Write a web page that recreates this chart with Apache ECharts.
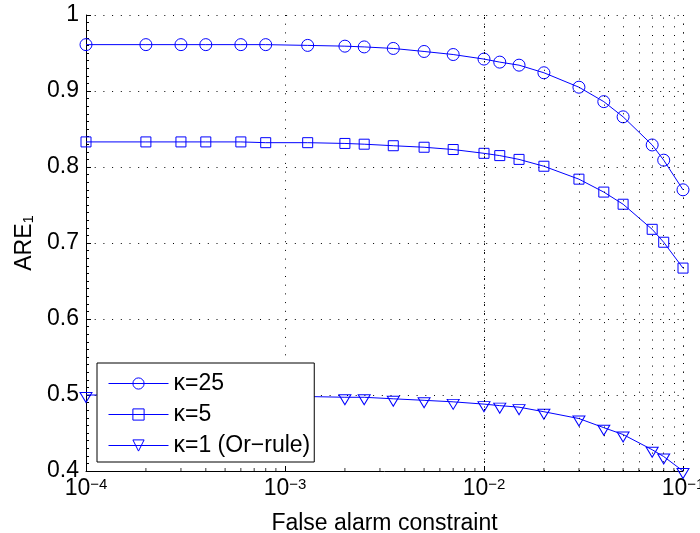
<!DOCTYPE html>
<html><head><meta charset="utf-8">
<script src="https://cdn.jsdelivr.net/npm/echarts@6/dist/echarts.min.js"></script>
<style>html,body{margin:0;padding:0;background:#fff}#c{width:700px;height:533px}</style>
</head><body><div id="c"></div>
<script>
// ---- data ----
const falseAlarm = [1e-4, 2e-4, 3e-4, 4e-4, 6e-4, 8e-4, 1.3e-3, 2e-3, 2.5e-3, 3.5e-3, 5e-3, 7e-3,
                    1e-2, 1.2e-2, 1.5e-2, 2e-2, 3e-2, 4e-2, 5e-2, 7e-2, 8e-2, 1e-1];
const areK25 = [0.961, 0.961, 0.961, 0.961, 0.961, 0.961, 0.960, 0.959, 0.958, 0.956, 0.952, 0.948,
                0.942, 0.938, 0.934, 0.924, 0.905, 0.886, 0.866, 0.829, 0.809, 0.770];
const areK5  = [0.833, 0.833, 0.833, 0.833, 0.833, 0.832, 0.832, 0.831, 0.830, 0.828, 0.826, 0.823,
                0.818, 0.815, 0.810, 0.801, 0.784, 0.767, 0.751, 0.718, 0.701, 0.667];
const areK1  = [0.500, 0.500, 0.500, 0.500, 0.500, 0.499, 0.498, 0.497, 0.497, 0.495, 0.493, 0.491,
                0.488, 0.486, 0.484, 0.478, 0.469, 0.457, 0.448, 0.428, 0.419, 0.400];
const seriesNames = ['κ=25', 'κ=5', 'κ=1 (Or−rule)'];
const xMinorTicks = [2e-4, 3e-4, 4e-4, 5e-4, 6e-4, 7e-4, 8e-4, 9e-4,
                     2e-3, 3e-3, 4e-3, 5e-3, 6e-3, 7e-3, 8e-3, 9e-3,
                     2e-2, 3e-2, 4e-2, 5e-2, 6e-2, 7e-2, 8e-2, 9e-2];
const xAxisTitle = 'False alarm constraint';
const yAxisTitle = ['ARE', '1'];

// ---- chart ----
const FONT = '"Liberation Sans", Arial, Helvetica, sans-serif';
const FS = 23;
const BLUE = '#0000ff';
const DOT = [1, 7.7];
const chart = echarts.init(document.getElementById('c'), null, {renderer: 'canvas'});
function pts(ys) { return falseAlarm.map((x, i) => [x, ys[i]]); }
const markerStyle = {color: 'rgba(0,0,0,0)', borderColor: BLUE, borderWidth: 1};
const option = {
  animation: false,
  textStyle: {fontFamily: FONT},
  grid: {left: 86, top: 15, width: 597, height: 456, containLabel: false, outerBoundsMode: 'none'},
  xAxis: {
    type: 'log', logBase: 10, min: 1e-4, max: 1e-1,
    name: xAxisTitle, nameLocation: 'middle', nameGap: 38,
    nameTextStyle: {fontSize: FS, color: '#000', fontFamily: FONT},
    axisLine: {show: true, lineStyle: {color: '#000', width: 1}},
    axisTick: {show: true, inside: true, length: 5, lineStyle: {color: '#000'}},
    axisLabel: {
      margin: 6, showMinLabel: true, showMaxLabel: true,
      formatter: v => '{b|10}{s|−' + Math.abs(Math.round(Math.log10(v))) + '}',
      rich: {
        b: {fontSize: FS, lineHeight: 23, verticalAlign: 'bottom', color: '#000', fontFamily: FONT},
        s: {fontSize: 15, lineHeight: 15, padding: [0, 0, 15, 0], verticalAlign: 'top', color: '#000', fontFamily: FONT}
      }
    },
    splitLine: {show: true, lineStyle: {color: '#000', width: 1, type: DOT}}
  },
  yAxis: {
    type: 'value', min: 0.4, max: 1, interval: 0.1,
    name: '{a|' + yAxisTitle[0] + '}{s|' + yAxisTitle[1] + '}', nameLocation: 'middle', nameGap: 43, nameRotate: 90,
    nameTextStyle: {
      rich: {
        a: {fontSize: FS, lineHeight: 23, verticalAlign: 'top', color: '#000', fontFamily: FONT},
        s: {fontSize: 15, lineHeight: 15, padding: [10, 0, 0, 0], verticalAlign: 'bottom', color: '#000', fontFamily: FONT}
      }
    },
    axisLine: {show: true, lineStyle: {color: '#000', width: 1}},
    axisTick: {show: true, inside: true, length: 5, lineStyle: {color: '#000'}},
    minorTick: {show: true, splitNumber: 10, length: 3, lineStyle: {color: '#000'}},
    axisLabel: {fontSize: FS, color: '#000', margin: 7, fontFamily: FONT},
    splitLine: {show: true, lineStyle: {color: '#000', width: 1, type: DOT}}
  },
  legend: {
    data: seriesNames, orient: 'vertical', left: 97, top: 363,
    padding: [9, 4, 5, 11], itemGap: 8, itemWidth: 60, itemHeight: 14,
    textStyle: {fontSize: FS, lineHeight: 23, color: '#000', fontFamily: FONT},
    backgroundColor: '#fff', borderColor: '#000', borderWidth: 1, borderRadius: 0,
    itemStyle: markerStyle, lineStyle: {color: BLUE, width: 1},
    selectedMode: false
  },
  series: [
    {name: seriesNames[0], type: 'line', data: pts(areK25), symbol: 'circle', symbolSize: 12, showAllSymbol: true,
     lineStyle: {color: BLUE, width: 1}, itemStyle: markerStyle, z: 3},
    {name: seriesNames[1], type: 'line', data: pts(areK5), symbol: 'rect', symbolSize: 10, showAllSymbol: true,
     lineStyle: {color: BLUE, width: 1}, itemStyle: markerStyle, z: 3},
    {name: seriesNames[2], type: 'line', data: pts(areK1), symbol: 'path://M0,0L12,0L6,10Z', symbolSize: [12, 10],
     symbolOffset: [0, 2.5], showAllSymbol: true,
     lineStyle: {color: BLUE, width: 1}, itemStyle: markerStyle, z: 3},
    {name: 'minor', type: 'scatter', data: xMinorTicks.map(x => [x, 0.4]), symbol: 'rect', symbolSize: [1, 3],
     symbolOffset: [0, -1.5], itemStyle: {color: '#000'}, silent: true, z: 1,
     markLine: {silent: true, symbol: ['none', 'none'], label: {show: false},
       lineStyle: {color: '#000', width: 1, type: DOT}, emphasis: {disabled: true},
       data: xMinorTicks.map(x => ({xAxis: x}))}}
  ]
};
chart.setOption(option);
</script></body></html>
